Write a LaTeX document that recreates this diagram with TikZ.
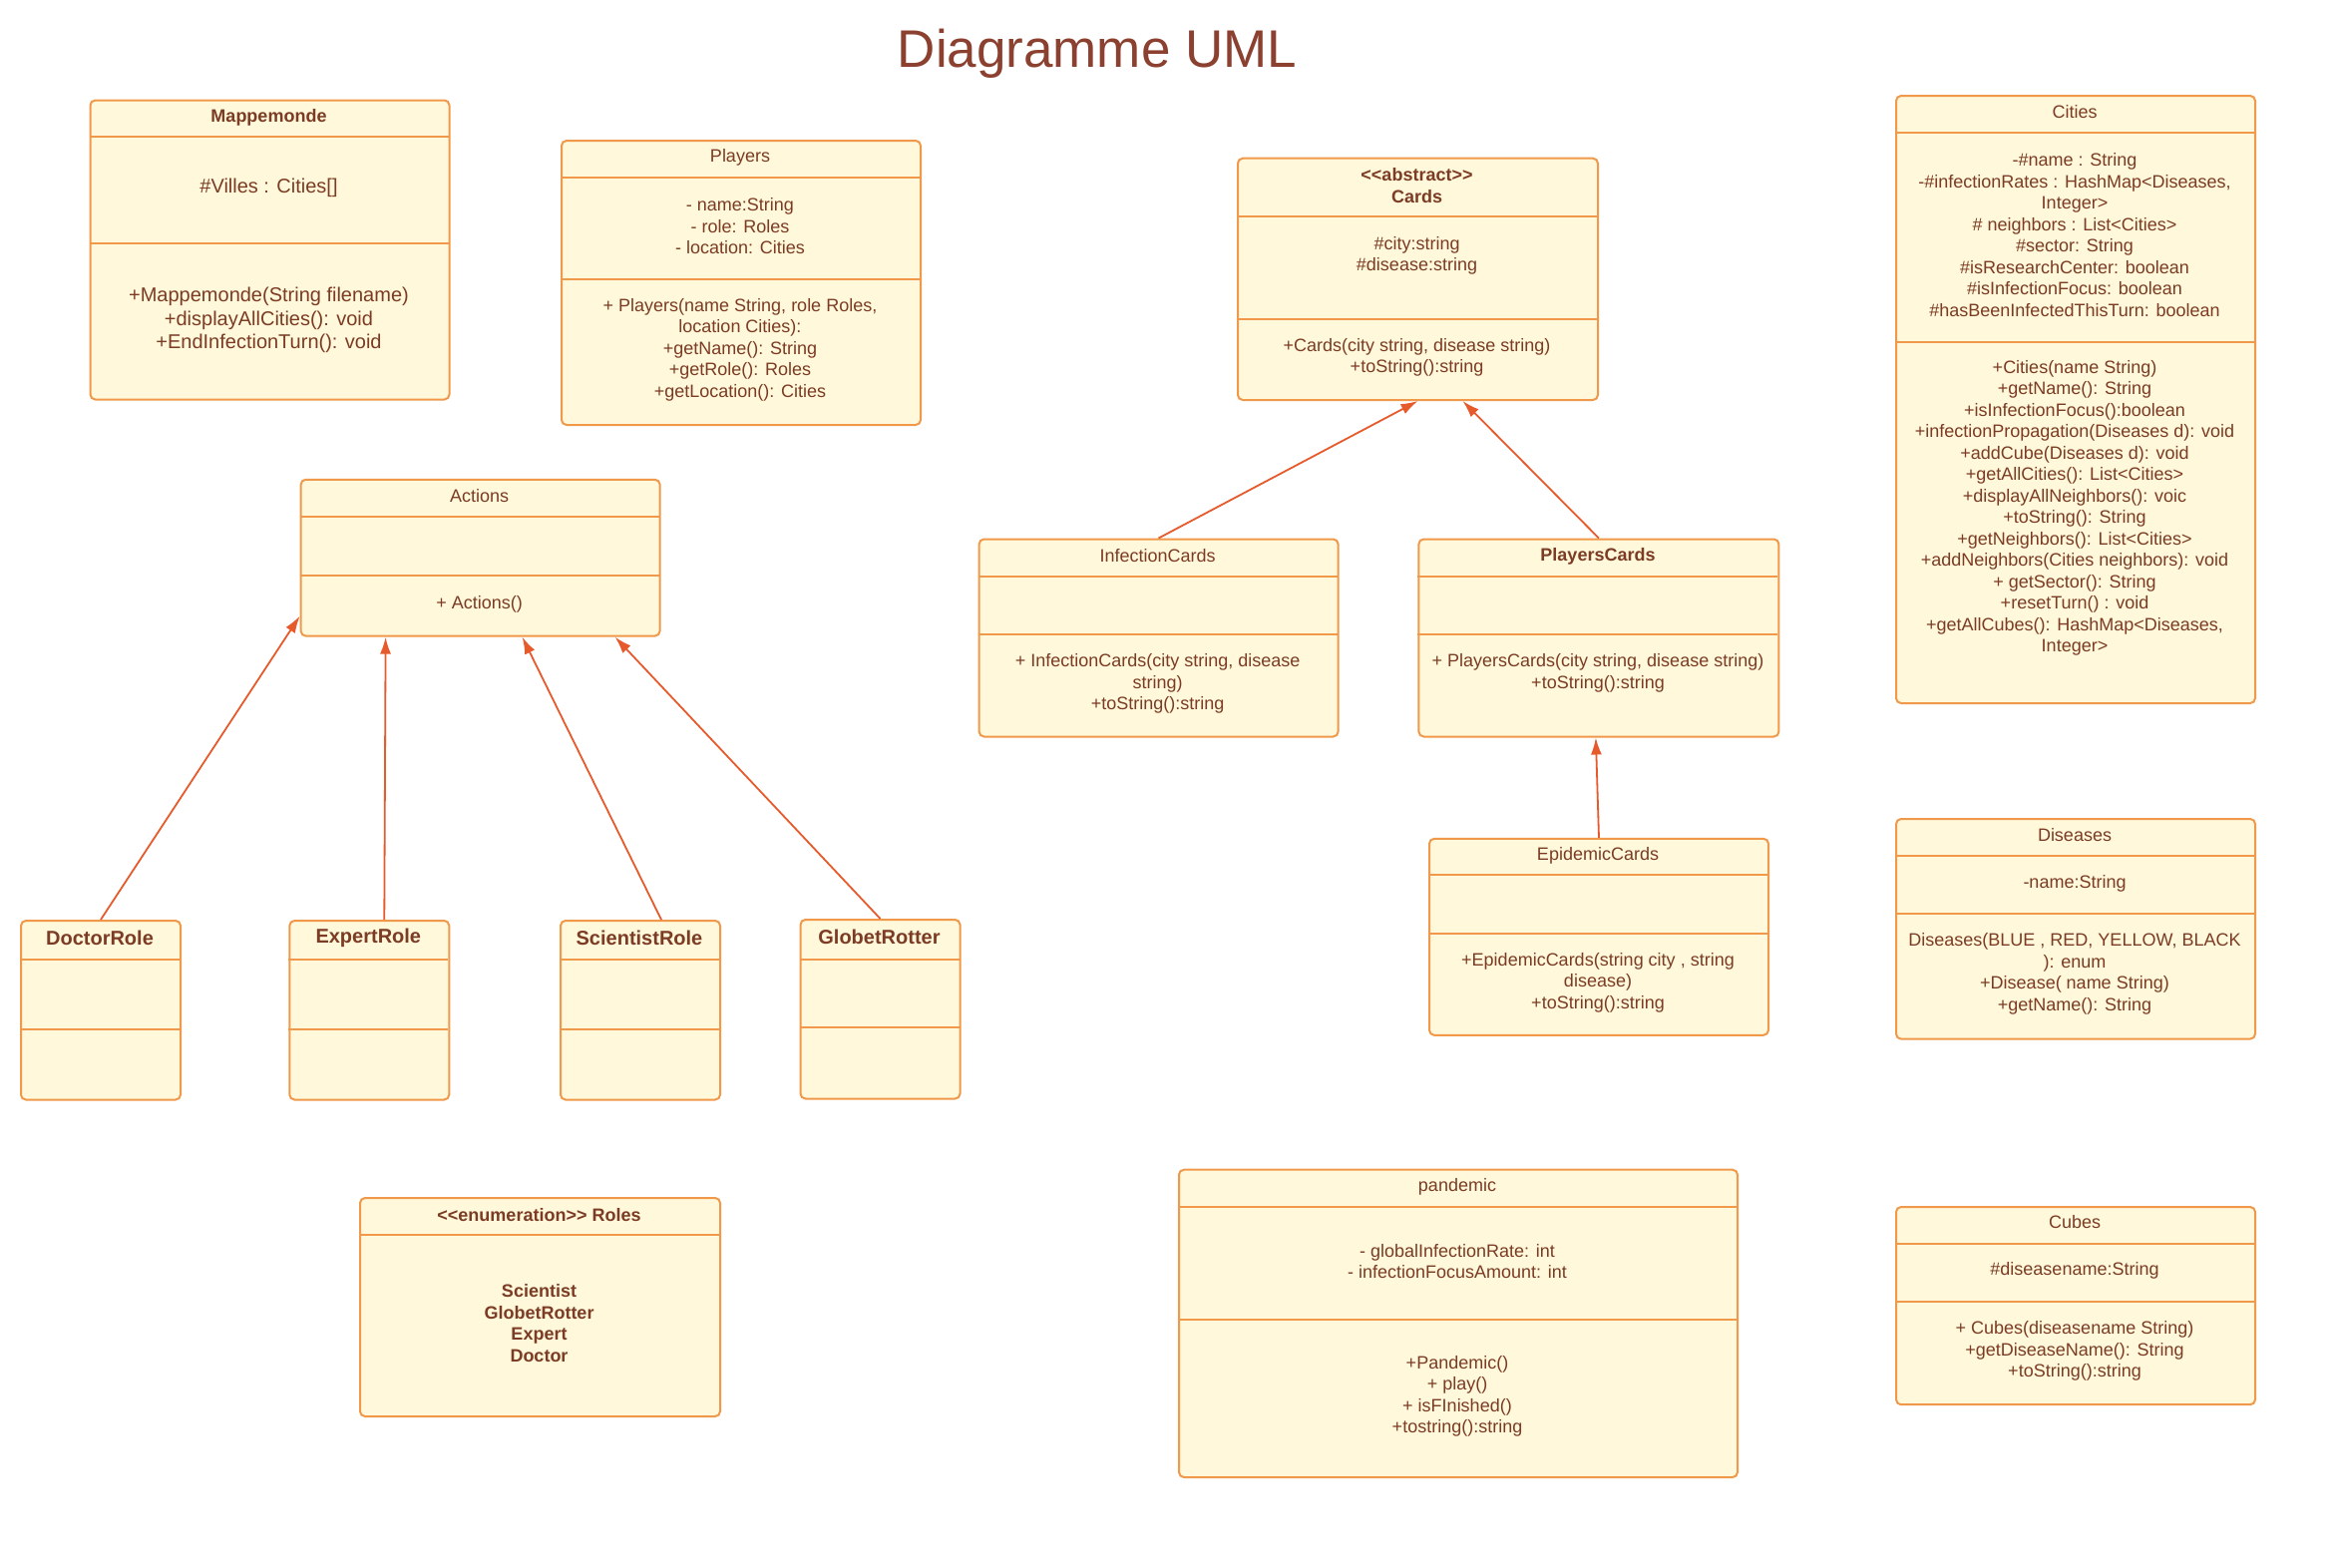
\documentclass[tikz,border=0pt]{standalone}
\usepackage{fontspec}
\setmainfont{Liberation Sans}
\usepackage{tikz}
\usetikzlibrary{arrows.meta}

\definecolor{classfill}{HTML}{FFF8DA}
\definecolor{classdraw}{HTML}{F0994A}
\definecolor{classtext}{HTML}{7B3B24}
\definecolor{titletext}{HTML}{8C4130}
\definecolor{arrowred}{HTML}{E65A2C}

\begin{document}
\begin{tikzpicture}[x=1pt, y=-1pt, >={Latex[length=17pt, width=11pt]}]
    \tikzstyle{classbox} = [rectangle, rounded corners=5pt, anchor=north west, draw=classdraw, fill=classfill, line width=2pt, inner sep=0pt]
    \tikzstyle{divider} = [draw=classdraw, line width=2pt]
    \tikzstyle{classhead} = [text=classtext, font=\fontsize{18}{21.5}\selectfont, align=center, inner sep=0pt]
    \tikzstyle{classboldhead} = [classhead, font=\fontsize{18}{21.5}\selectfont\bfseries]
    \tikzstyle{members} = [classhead]
    \tikzstyle{bigmembers} = [classhead, font=\fontsize{20}{23.5}\selectfont]
    \tikzstyle{rolehead} = [classhead, font=\fontsize{20}{24}\selectfont\bfseries]
    \tikzstyle{inherit} = [->, draw=arrowred, fill=arrowred, line width=1.8pt]

    \path [fill=white, use as bounding box] (0,0) rectangle (2338,1572);

    % Title
    \node [text=titletext, font=\fontsize{53}{61}\selectfont, anchor=base] (title) at (1100,67) {Diagramme UML};

    % Mappemonde
    \node [classbox, minimum width=360pt, minimum height=300pt] (mappemonde) at (89.5,99.5) {};
    \draw [divider] (89.5,137) -- (449.5,137);
    \draw [divider] (89.5,244.3) -- (449.5,244.3);
    \node [classboldhead] (mappemonde_name) at (269.5,117.5) {Mappemonde};
    \node [bigmembers] (mappemonde_attr) at (269.5,188.5) {\#Villes : Cities[]};
    \node [bigmembers] (mappemonde_ops) at (269.5,321) {+Mappemonde(String filename)\\+displayAllCities(): void\\+EndInfectionTurn(): void};

    % Players
    \node [classbox, minimum width=360pt, minimum height=285pt] (players) at (562,140) {};
    \draw [divider] (562,177.7) -- (922,177.7);
    \draw [divider] (562,280) -- (922,280);
    \node [classhead] (players_name) at (742,157.5) {Players};
    \node [members] (players_attr) at (742,227) {- name:String\\- role: Roles\\- location: Cities};
    \node [members] (players_ops) at (742,350.5) {+ Players(name String, role Roles,\\location Cities):\\+getName(): String\\+getRole(): Roles\\+getLocation(): Cities};

    % Cards
    \node [classbox, minimum width=361pt, minimum height=242.3pt] (cards) at (1240,157.7) {};
    \draw [divider] (1240,217) -- (1601,217);
    \draw [divider] (1240,320) -- (1601,320);
    \node [classboldhead] (cards_name) at (1420.5,186) {<\kern0pt<abstract>\kern0pt>\\Cards};
    \node [members] (cards_attr) at (1420.5,256.5) {\#city:string\\\#disease:string};
    \node [members] (cards_ops) at (1420.5,358.5) {+Cards(city string, disease string)\\+toString():string};

    % Cities
    \node [classbox, minimum width=360pt, minimum height=609pt] (cities) at (1900,95) {};
    \draw [divider] (1900,132.7) -- (2260,132.7);
    \draw [divider] (1900,343) -- (2260,343);
    \node [classhead] (cities_name) at (2080,112.5) {Cities};
    \node [members] (cities_attr) at (2080,235.8) {-\#name : String\\-\#infectionRates : HashMap<Diseases,\\Integer>\\\# neighbors : List<Cities>\\\#sector: String\\\#isResearchCenter: boolean\\\#isInfectionFocus: boolean\\\#hasBeenInfectedThisTurn: boolean};
    \node [members] (cities_ops) at (2080,509.5) {+Cities(name String)\\+getName(): String\\+isInfectionFocus():boolean\\+infectionPropagation(Diseases d): void\\+addCube(Diseases d): void\\+getAllCities(): List<Cities>\\+displayAllNeighbors(): voic\\+toString(): String\\+getNeighbors(): List<Cities>\\+addNeighbors(Cities neighbors): void\\+ getSector(): String\\+resetTurn() : void\\+getAllCubes(): HashMap<Diseases,\\Integer>};

    % Actions
    \node [classbox, minimum width=360pt, minimum height=156.8pt] (actions) at (300.6,479.8) {};
    \draw [divider] (300.6,517.8) -- (660.6,517.8);
    \draw [divider] (300.6,577.3) -- (660.6,577.3);
    \node [classhead] (actions_name) at (480.6,497.5) {Actions};
    \node [members] (actions_ops) at (480.6,605.5) {+ Actions()};

    % Card kinds
    \node [classbox, minimum width=360pt, minimum height=198pt] (infection_cards) at (980.6,539.5) {};
    \draw [divider] (980.6,577.7) -- (1340.6,577.7);
    \draw [divider] (980.6,636.1) -- (1340.6,636.1);
    \node [classhead] (infection_name) at (1160.6,557.5) {InfectionCards};
    \node [members] (infection_ops) at (1160.6,685.5) {+ InfectionCards(city string, disease\\string)\\+toString():string};

    \node [classbox, minimum width=361pt, minimum height=198pt] (players_cards) at (1421.4,539.5) {};
    \draw [divider] (1421.4,577.7) -- (1782.4,577.7);
    \draw [divider] (1421.4,636.1) -- (1782.4,636.1);
    \node [classboldhead] (players_cards_name) at (1602,557.5) {PlayersCards};
    \node [members] (players_cards_ops) at (1602,674.8) {+ PlayersCards(city string, disease string)\\+toString():string};

    \node [classbox, minimum width=340pt, minimum height=197pt] (epidemic_cards) at (1432,839.8) {};
    \draw [divider] (1432,877.4) -- (1772,877.4);
    \draw [divider] (1432,936.1) -- (1772,936.1);
    \node [classhead] (epidemic_name) at (1602,857.5) {EpidemicCards};
    \node [members] (epidemic_ops) at (1602,985.3) {+EpidemicCards(string city , string\\disease)\\+toString():string};

    % Roles
    \node [classbox, minimum width=160pt, minimum height=179.5pt] (doctor) at (20,922) {};
    \draw [divider] (20,962.3) -- (180,962.3);
    \draw [divider] (20,1032) -- (180,1032);
    \node [rolehead] (doctor_name) at (100,940.5) {DoctorRole};

    \node [classbox, minimum width=160pt, minimum height=179.5pt] (expert) at (289.3,922) {};
    \draw [divider] (289.3,962.3) -- (449.3,962.3);
    \draw [divider] (289.3,1032) -- (449.3,1032);
    \node [rolehead] (expert_name) at (369.3,940.5) {ExpertRole};

    \node [classbox, minimum width=160pt, minimum height=179.5pt] (scientist) at (561,922) {};
    \draw [divider] (561,962.3) -- (721,962.3);
    \draw [divider] (561,1032) -- (721,1032);
    \node [rolehead] (scientist_name) at (641,940.5) {ScientistRole};

    \node [classbox, minimum width=160pt, minimum height=179.5pt] (globet) at (801.5,921) {};
    \draw [divider] (801.5,961.5) -- (961.5,961.5);
    \draw [divider] (801.5,1030) -- (961.5,1030);
    \node [rolehead] (globet_name) at (881.5,939.5) {GlobetRotter};

    % Diseases
    \node [classbox, minimum width=360pt, minimum height=220.6pt] (diseases) at (1900,820) {};
    \draw [divider] (1900,858.1) -- (2260,858.1);
    \draw [divider] (1900,916.4) -- (2260,916.4);
    \node [classhead] (diseases_name) at (2080,837.5) {Diseases};
    \node [members] (diseases_attr) at (2080,885.5) {-name:String};
    \node [members] (diseases_ops) at (2080,976.5) {Diseases(BLUE , RED, YELLOW, BLACK\\): enum\\+Disease( name String)\\+getName(): String};

    % Roles enumeration
    \node [classbox, minimum width=361pt, minimum height=219pt] (roles) at (360,1200) {};
    \draw [divider] (360,1238.3) -- (721,1238.3);
    \node [classboldhead] (roles_name) at (540.5,1218) {<\kern0pt<enumeration>\kern0pt> Roles};
    \node [classboldhead] (roles_items) at (540.5,1326.3) {Scientist\\GlobetRotter\\Expert\\Doctor};

    % pandemic
    \node [classbox, minimum width=560pt, minimum height=308.3pt] (pandemic) at (1181,1171.7) {};
    \draw [divider] (1181,1210) -- (1741,1210);
    \draw [divider] (1181,1322.7) -- (1741,1322.7);
    \node [classhead] (pandemic_name) at (1461,1190) {pandemic};
    \node [members] (pandemic_attr) at (1461,1264.7) {- globalInfectionRate: int\\- infectionFocusAmount: int};
    \node [members] (pandemic_ops) at (1461,1400) {+Pandemic()\\+ play()\\+ isFInished()\\+tostring():string};

    % Cubes
    \node [classbox, minimum width=360pt, minimum height=198.2pt] (cubes) at (1900,1209) {};
    \draw [divider] (1900,1246.7) -- (2260,1246.7);
    \draw [divider] (1900,1305) -- (2260,1305);
    \node [classhead] (cubes_name) at (2080,1225.5) {Cubes};
    \node [members] (cubes_attr) at (2080,1273.5) {\#diseasename:String};
    \node [members] (cubes_ops) at (2080,1354.5) {+ Cubes(diseasename String)\\+getDiseaseName(): String\\+toString():string};

    % Inheritance
    \draw [inherit] (doctor.north) -- ([yshift=21pt]actions.south west);
    \draw [inherit] ([xshift=15pt]expert.north) -- ([xshift=86pt]actions.south west);
    \draw [inherit] ([xshift=21pt]scientist.north) -- ([xshift=223pt]actions.south west);
    \draw [inherit] (globet.north) -- ([xshift=316pt]actions.south west);

    \draw [inherit] (infection_cards.north) -- (cards.south);
    \draw [inherit] (players_cards.north) -- ([xshift=45pt]cards.south);
    \draw [inherit] (epidemic_cards.north) -- ([xshift=-3pt]players_cards.south);
\end{tikzpicture}
\end{document}
